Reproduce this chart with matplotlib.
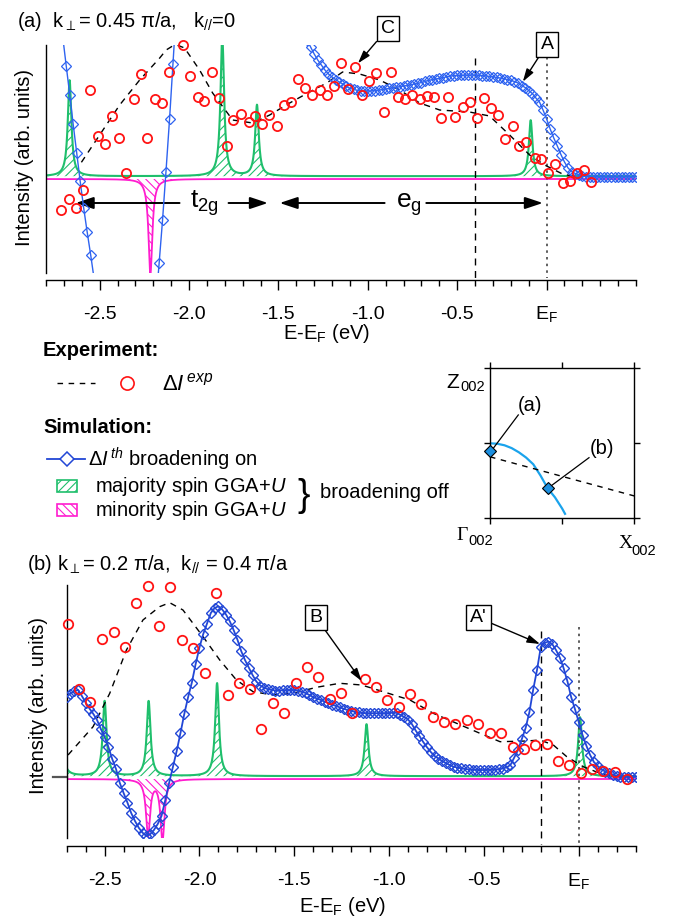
import numpy as np
import matplotlib
matplotlib.use("Agg")
import matplotlib.pyplot as plt
from matplotlib.patches import Rectangle
from matplotlib.ticker import FixedLocator, MultipleLocator

plt.rcParams['font.family'] = ['Liberation Sans', 'DejaVu Sans']
plt.rcParams['mathtext.fontset'] = 'custom'
plt.rcParams['mathtext.rm'] = 'Liberation Sans'
plt.rcParams['mathtext.it'] = 'Liberation Sans:italic'
plt.rcParams['mathtext.bf'] = 'Liberation Sans:bold'
plt.rcParams['axes.unicode_minus'] = False
plt.rcParams['hatch.linewidth'] = 0.8

# ======================= DATA : panel (a) =======================
exp_a_E = [-2.714, -2.672, -2.630, -2.593, -2.552, -2.511, -2.468, -2.431, -2.392, -2.355,
           -2.308, -2.271, -2.233, -2.192, -2.152, -2.112, -2.034, -1.993, -1.952, -1.914,
           -1.872, -1.834, -1.786, -1.754, -1.709, -1.667, -1.630, -1.590, -1.553, -1.510,
           -1.471, -1.432, -1.391, -1.350, -1.310, -1.270, -1.229, -1.191, -1.152, -1.111,
           -1.071, -1.032, -0.994, -0.952, -0.912, -0.872, -0.832, -0.790, -0.751, -0.710,
           -0.669, -0.631, -0.591, -0.552, -0.510, -0.470, -0.431, -0.392, -0.351, -0.312,
           -0.270, -0.231, -0.190, -0.153, -0.114, -0.067, -0.030, 0.007, 0.049, 0.089,
           0.129, 0.168, 0.208, 0.246]
exp_a_I = [-33, -22, -30.7, -13, 87, 41, 32.7, 61, 39.3, 4.3,
           77.7, 102.7, 39.3, 77.7, 73.7, 104.7, 132, 101.3, 79.7, 76,
           105.3, 78.7, 31.3, 57, 63.5, 55, 60.7, 52.7, 62, 51.2,
           72, 75.3, 97.7, 88.7, 82, 87, 82, 91.5, 114.5, 88,
           110.3, 82, 96.3, 104.5, 65.5, 105, 79.7, 77.7, 82, 78,
           81.5, 79.7, 59.5, 79.7, 60.3, 70.3, 75.3, 59.3, 79, 69.3,
           62, 38.3, 51.2, 30.8, 35.3, 19.5, 18.3, 3.7, 12.8, -5.7,
           -4, 4.5, 7.5, -4.7]

fit_a_E = [-2.602, -2.500, -2.388, -2.276, -2.164, -2.128, -2.092, -2.060, -2.025, -1.941,
           -1.868, -1.756, -1.644, -1.549, -1.437, -1.326, -1.230, -1.141, -1.046, -0.934,
           -0.822, -0.710, -0.598, -0.431, -0.319, -0.207, -0.095, -0.011, 0.089, 0.168]
fit_a_I = [14.7, 42, 72, 97, 119, 127, 131, 131.5, 129, 107,
           84, 57, 54, 62, 74, 85, 94, 105, 103, 97,
           87, 74, 67, 65, 61, 42, 22, 12, 3, 0]

# theory (broadening on): two steep branches + main branch on a 0.02 eV grid
th_a_E_left = [-2.707, -2.687, -2.667, -2.648, -2.628, -2.609, -2.589, -2.570, -2.550, -2.530]
th_a_I_left = [141, 111.3, 82, 52.7, 23.7, -4, -31.3, -54.7, -78, -103]
th_a_E_mid = [-2.186, -2.167, -2.148, -2.129, -2.109, -2.090, -2.071]
th_a_I_mid = [-128, -85.7, -42.7, 5.3, 57.7, 112.8, 168]
th_a_E_start = -1.34
th_a_I_main = [137, 130, 123, 117, 112, 107, 103, 100, 97.5, 95,
               93, 90.7, 88.6, 87.7, 86.7, 86, 86, 86, 86.2, 86.5,
               86.9, 87.4, 88, 88.7, 89.2, 89.8, 90.4, 91, 91.6, 92.2,
               93, 93.7, 94.5, 95.6, 96.7, 97.3, 98, 98.7, 99.4, 100.1,
               100.8, 101.4, 101.6, 101.7, 101.8, 101.9, 102, 102, 101.8, 101.5,
               101.1, 100.6, 100.2, 99.6, 99, 98.2, 97.5, 96.7, 95.5, 94,
               91.5, 89.5, 86.5, 83.5, 79, 75, 67, 58, 48, 39,
               31, 22.5, 15, 9, 5.5, 3.5, 2.2, 1.3, 0.5, 0,
               0, 0, 0, 0, 0, 0, 0, 0, 0, 0,
               0, 0, 0]

maj_a_pos = [-2.668, -1.814, -1.620, -0.089]
maj_a_amp = [96, 140, 71, 56]
min_a_pos = [-2.216]
min_a_amp = [95]

# ======================= DATA : panel (b) =======================
exp_b_E = [-2.693, -2.633, -2.577, -2.512, -2.452, -2.394, -2.332, -2.273, -2.213, -2.153,
           -2.093, -2.034, -1.972, -1.912, -1.852, -1.793, -1.734, -1.673, -1.612, -1.554,
           -1.492, -1.432, -1.373, -1.312, -1.252, -1.193, -1.128, -1.070, -1.010, -0.950,
           -0.890, -0.831, -0.770, -0.711, -0.651, -0.591, -0.530, -0.468, -0.410, -0.348,
           -0.289, -0.231, -0.169, -0.108, -0.050, 0.012, 0.072, 0.130, 0.192, 0.253]
exp_b_I = [153, 87.7, 74.7, 138.3, 145.3, 130.3, 174, 191.3, 151, 189.7,
           137, 129, 104.5, 183.7, 82, 93.7, 87.7, 47.8, 74.3, 64.3,
           94, 110.3, 100.3, 78, 83.7, 64.3, 98, 89.7, 77, 69.7,
           82.7, 73, 60.3, 55.3, 53, 57, 53, 44.3, 44.3, 30.3,
           27.7, 32, 33, 16.3, 12, 3.7, 7.7, 6.3, 4.7, -2]

fit_b_E = [-2.693, -2.561, -2.473, -2.385, -2.298, -2.210, -2.157, -2.087, -1.981, -1.893,
           -1.805, -1.717, -1.612, -1.506, -1.383, -1.260, -1.145, -1.031, -0.890, -0.767,
           -0.644, -0.521, -0.415, -0.274, -0.204, -0.134, -0.063, 0.024, 0.112, 0.253]
fit_b_I = [22, 50.3, 83.7, 127, 157, 170.3, 174.3, 167, 140.3, 117,
           97, 85.3, 82, 83.7, 89.7, 93.7, 92, 85.3, 77, 63.7,
           53.7, 43.7, 35.3, 36, 37, 32, 20.3, 10.3, 3.7, -1.3]

th_b_E_start = -2.70
th_b_I = [80.5, 83.5, 85.8, 87, 81, 74.5, 68.5, 63.2, 57, 48,
          40, 30, 18, 8, -6, -16, -25.5, -36, -44, -50.8,
          -55.7, -59, -57.3, -53, -47, -39, -23, -6, 10, 26,
          44, 63, 79.7, 94.5, 113, 129.5, 143, 153.5, 164, 169,
          170.7, 167.5, 162.5, 155.7, 147, 137.5, 126, 117, 109.5, 102,
          95.5, 91.5, 89.5, 87.8, 87.1, 86.5, 86.5, 86.8, 87, 87,
          87, 86.5, 85, 84, 82, 80, 78.5, 77, 75.4, 74,
          72.3, 71, 69.7, 68.5, 67, 66, 65.2, 64.6, 64, 63.7,
          63.7, 63.7, 63.7, 63.7, 63.8, 64, 64.2, 64.2, 62.1, 60,
          57.5, 53, 46.5, 41, 35, 29.7, 25, 21, 18.5, 16,
          14, 12, 10.3, 9.5, 8.8, 8, 7.6, 7.4, 7.2, 7,
          7, 7.2, 7.4, 7.5, 7.7, 8.5, 9.7, 12, 19.5, 27,
          38, 49, 65, 87.5, 107, 130, 134, 135.5, 133, 127,
          119.5, 109, 96, 80, 68, 55, 42, 31.5, 22, 15,
          11, 7.5, 5.5, 4, 2.5, 1, 0.3, 0, 0, 0,
          0]

maj_b_pos = [-2.735, -2.500, -2.268, -1.907, -1.119, 0.007]
maj_b_amp = [75, 75, 75, 93, 52, 59]
min_b_pos = [-2.271, -2.195]
min_b_amp = [56, 61]

# ======================= DATA : inset (k-space) =======================
bz_kpar = [0, 0.05, 0.10, 0.15, 0.20, 0.25, 0.30, 0.35, 0.40, 0.45, 0.50, 0.52]
bz_kperp = [0.5, 0.497, 0.487, 0.468, 0.44, 0.405, 0.36, 0.285, 0.2, 0.14, 0.065, 0.03]
dash_kpar = [0, 1]
dash_kperp = [0.41, 0.149]
kpt_par = [0.0, 0.4]
kpt_perp = [0.45, 0.2]
kpt_lbl = ['(a)', '(b)']

tick_pos = [-2.5, -2.0, -1.5, -1.0, -0.5, 0.0]
tick_lbl = ['-2.5', '-2.0', '-1.5', '-1.0', '-0.5', r'E$_{\mathrm{F}}$']

# ======================= STYLE =======================
GREEN = '#1fbf6c'
MAG = '#ff1ccf'
BLUE_A = '#2e63f0'
BLUE_B = '#2247d6'
RED = '#ff1414'

W, H = 678, 919
fig = plt.figure(figsize=(W / 100, H / 100), dpi=100)


def px_axes(l, t, r, b):
    return [l / W, 1 - b / H, (r - l) / W, (b - t) / H]


axA = fig.add_axes(px_axes(46, 45, 636, 273))
axB = fig.add_axes(px_axes(66.7, 585, 636, 838))
axI = fig.add_axes(px_axes(490, 368.3, 634.3, 518.3))
ov = fig.add_axes([0, 0, 1, 1], zorder=10)
ov.set_xlim(0, W)
ov.set_ylim(H, 0)
ov.axis('off')


def style_main(ax, xlim, ylim, offset):
    ax.set_xlim(*xlim)
    ax.set_ylim(*ylim)
    for s in ['top', 'right']:
        ax.spines[s].set_visible(False)
    ax.spines['bottom'].set_position(('outward', offset))
    ax.spines['left'].set_linewidth(1.0)
    ax.spines['bottom'].set_linewidth(1.0)
    ax.set_yticks([])
    ax.xaxis.set_major_locator(FixedLocator(tick_pos))
    ax.xaxis.set_minor_locator(MultipleLocator(0.1))
    ax.set_xticklabels(tick_lbl)
    ax.tick_params(axis='x', which='major', direction='out', length=7.2, width=1,
                   labelsize=14, pad=17.5)
    ax.tick_params(axis='x', which='minor', direction='out', length=4, width=1)
    for lab in ax.get_xticklabels():
        lab.set_va('center')
    ax.patch.set_alpha(0)


def draw_spin(ax, xlim, maj_pos, maj_amp, g_maj, min_pos, min_amp, g_min):
    E = np.linspace(xlim[0], xlim[1], 4001)
    gb, mb = 0.8, -2.0
    maj = gb + sum(a / (1 + ((E - p) / g_maj) ** 2) for p, a in zip(maj_pos, maj_amp))
    mnr = mb - sum(a / (1 + ((E - p) / g_min) ** 2) for p, a in zip(min_pos, min_amp))
    ax.fill_between(E, mb, mnr, facecolor='none', edgecolor=MAG, hatch='\\\\\\\\',
                    linewidth=0, zorder=1.1)
    ax.plot(E, mnr, color=MAG, lw=1.3, zorder=1.3)
    ax.fill_between(E, gb, maj, facecolor='none', edgecolor=GREEN, hatch='////',
                    linewidth=0, zorder=1.2)
    ax.plot(E, maj, color=GREEN, lw=1.5, zorder=1.4)


def box_label(ax, text, xy, xytext):
    ax.annotate(text, xy=xy, xytext=xytext, ha='center', va='center', fontsize=14,
                bbox=dict(boxstyle='square,pad=0.22', fc='white', ec='black', lw=1),
                arrowprops=dict(arrowstyle='-|>,head_length=0.55,head_width=0.17',
                                mutation_scale=14, color='black', lw=1,
                                shrinkA=0, shrinkB=0),
                annotation_clip=False, zorder=8)


def harrow(ax, x0, x1, y):
    ax.annotate('', xy=(x1, y), xytext=(x0, y),
                arrowprops=dict(arrowstyle='-|>,head_length=0.6,head_width=0.2',
                                mutation_scale=18, color='black', lw=1.4,
                                shrinkA=0, shrinkB=0), annotation_clip=False)


# ---------------- panel (a) ----------------
xlimA, ylimA = (-2.8, 0.5), (-96, 132)
style_main(axA, xlimA, ylimA, 5)
draw_spin(axA, xlimA, maj_a_pos, maj_a_amp, 0.012, min_a_pos, min_a_amp, 0.013)
axA.plot(fit_a_E, fit_a_I, color='black', lw=1, dashes=(4.5, 4), zorder=2.5)
th_a_E_main = np.round(th_a_E_start + 0.02 * np.arange(len(th_a_I_main)), 2)
th_a_E = np.concatenate([th_a_E_left, th_a_E_mid, th_a_E_main])
th_a_I = np.concatenate([th_a_I_left, th_a_I_mid, th_a_I_main])
axA.plot(th_a_E, th_a_I, '-', color=BLUE_A, lw=1, marker='D', ms=4.6, mfc='none',
         mec=BLUE_A, mew=0.9, zorder=4)
axA.plot(exp_a_E, exp_a_I, 'o', mfc='none', mec=RED, ms=6.6, mew=1.3,
         clip_on=False, zorder=5)
axA.plot([-0.4, -0.4], [119, -101], color='black', lw=1, dashes=(5, 4),
         clip_on=False, zorder=2)
axA.plot([0, 0], [120.3, -101], color='#444444', lw=1.2, dashes=(1.5, 2.5),
         clip_on=False, zorder=2)
harrow(axA, -2.053, -2.634, -26)
harrow(axA, -1.779, -1.559, -26)
harrow(axA, -0.906, -1.493, -26)
harrow(axA, -0.673, -0.021, -26)
axA.text(-1.913, -31, r't$_{\mathrm{2g}}$', fontsize=19, ha='center', va='baseline')
axA.text(-0.772, -31.3, r'e$_{\mathrm{g}}$', fontsize=19, ha='center', va='baseline')
box_label(axA, 'A', (-0.133, 95.3), (0.002, 132.7))
box_label(axA, 'C', (-1.055, 113.7), (-0.888, 148.7))

# ---------------- panel (b) ----------------
xlimB, ylimB = (-2.7, 0.302), (-61, 192)
style_main(axB, xlimB, ylimB, 6)
draw_spin(axB, xlimB, maj_b_pos, maj_b_amp, 0.012, min_b_pos, min_b_amp, 0.013)
axB.plot(fit_b_E, fit_b_I, color='black', lw=1, dashes=(4.5, 4), zorder=2.5)
th_b_E = np.round(th_b_E_start + 0.02 * np.arange(len(th_b_I)), 2)
axB.plot(th_b_E, th_b_I, '-', color=BLUE_B, lw=1.3, marker='D', ms=5, mfc='none',
         mec=BLUE_B, mew=1.0, zorder=4)
axB.plot(exp_b_E, exp_b_I, 'o', mfc='none', mec=RED, ms=6.8, mew=1.3,
         clip_on=False, zorder=5)
axB.plot([-0.2, -0.2], [146, -67], color='black', lw=1, dashes=(5, 4),
         clip_on=False, zorder=2)
axB.plot([0, 0], [149.7, -67], color='#444444', lw=1.2, dashes=(1.5, 2.5),
         clip_on=False, zorder=2)
axB.plot([-2.774, -2.7], [0, 0], color='#555555', lw=1.6, clip_on=False)
box_label(axB, 'B', (-1.145, 96), (-1.386, 159.7))
box_label(axB, "A'", (-0.204, 133), (-0.530, 159.3))

# ---------------- inset ----------------
axI.set_xlim(0, 1)
axI.set_ylim(0, 1)
axI.set_xticks([0, 0.5, 1])
axI.set_yticks([0, 0.5, 1])
axI.tick_params(which='major', direction='out', length=4.5, width=1, top=True,
                right=True, labelbottom=False, labelleft=False)
for s in axI.spines.values():
    s.set_linewidth(1.0)
axI.plot(bz_kpar, bz_kperp, color='#1aa3ec', lw=1.6)
axI.plot(dash_kpar, dash_kperp, color='black', lw=1, dashes=(4, 4))
axI.plot(kpt_par, kpt_perp, 'D', mfc='#1b8fe0', mec='black', mew=0.8, ms=6.2,
         clip_on=False, zorder=5)
axI.plot([0.196, 0.023], [0.689, 0.467], color='black', lw=0.9)
axI.plot([0.686, 0.416], [0.404, 0.211], color='black', lw=0.9)
axI.text(0.277, 0.755, kpt_lbl[0], fontsize=14.5, ha='center', va='center')
axI.text(0.774, 0.467, kpt_lbl[1], fontsize=14.5, ha='center', va='center')

# ---------------- overlay texts / legend ----------------
FS = 14.5
ov.text(16.7, 27, '(a)  k$_{\\perp}$= 0.45 π/a,   k$_{//}$=0', fontsize=FS, va='baseline')
ov.text(26.7, 570, '(b) k$_{\\perp}$= 0.2 π/a,  k$_{//}$ = 0.4 π/a', fontsize=FS, va='baseline')
ov.text(25, 157, 'Intensity (arb. units)', fontsize=FS, rotation=90, ha='center', va='center')
ov.text(38.3, 706, 'Intensity (arb. units)', fontsize=FS, rotation=90, ha='center', va='center')
ov.text(327, 339, r'E-E$_{\mathrm{F}}$ (eV)', fontsize=FS, ha='center', va='baseline')
ov.text(343, 912, r'E-E$_{\mathrm{F}}$ (eV)', fontsize=FS, ha='center', va='baseline')

ov.text(42.7, 356, 'Experiment:', fontsize=FS, fontweight='bold', va='baseline')
ov.plot([57, 95], [383, 383], color='black', lw=1, dashes=(4, 4))
ov.plot([127.3], [383.3], 'o', mfc='none', mec=RED, ms=9.5, mew=1.2)
ov.text(161.7, 390, r'$\Delta I^{\,exp}$', fontsize=16, va='baseline')

ov.text(43.3, 433.3, 'Simulation:', fontsize=FS, fontweight='bold', va='baseline')
ov.plot([47, 85], [459.3, 459.3], color=BLUE_B, lw=1.3)
ov.plot([66.7], [459.3], 'D', mfc='white', mec=BLUE_B, ms=7, mew=1.1)
ov.text(88.3, 466.5, r'$\Delta I^{\,th}$ broadening on', fontsize=FS, va='baseline')
ov.add_patch(Rectangle((57, 480), 20, 12, facecolor='none', edgecolor=GREEN,
                       hatch='////', lw=1.2))
ov.add_patch(Rectangle((57, 504), 20, 12, facecolor='none', edgecolor=MAG,
                       hatch='\\\\\\\\', lw=1.2))
ov.text(95, 492.3, 'majority spin GGA+$U$', fontsize=FS, va='baseline')
ov.text(95, 516, 'minority spin GGA+$U$', fontsize=FS, va='baseline')
ov.text(304, 496, '}', fontsize=27, ha='center', va='center')
ov.text(320, 498.3, 'broadening off', fontsize=FS, va='baseline')

ov.text(446.7, 388.3, 'Z', fontsize=15, va='baseline')
ov.text(460.5, 391, '002', fontsize=10.5, va='baseline')
ov.text(456.7, 540.5, 'Γ', fontsize=14, va='baseline', family='Liberation Serif')
ov.text(468, 545, '002', fontsize=10.5, va='baseline')
ov.text(618.3, 548.3, 'X', fontsize=14, va='baseline', family='Liberation Serif')
ov.text(631.5, 555, '002', fontsize=10.5, va='baseline')

fig.savefig('out.png', dpi=100)
